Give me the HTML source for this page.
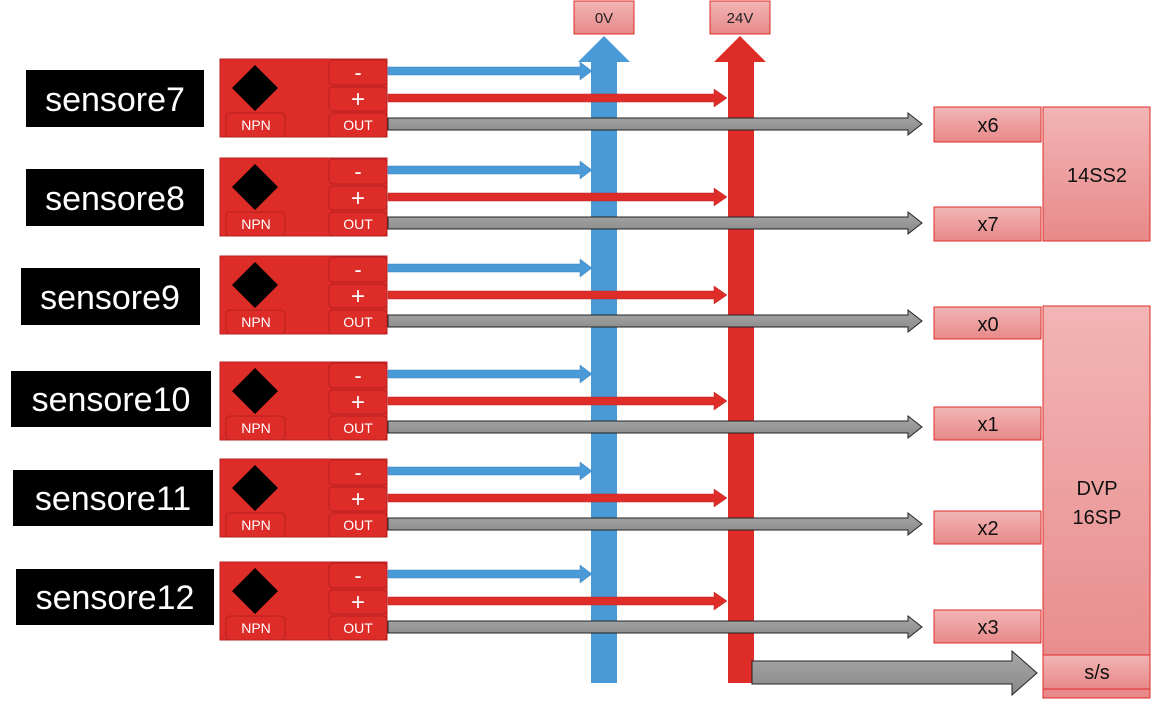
<!DOCTYPE html>
<html><head><meta charset="utf-8"><style>
html,body{margin:0;padding:0;background:#fff;}
svg{display:block;}
text{font-family:"Liberation Sans","DejaVu Sans",sans-serif;}
</style></head><body>
<svg width="1151" height="701" viewBox="0 0 1151 701" xmlns="http://www.w3.org/2000/svg">
<defs>
<linearGradient id="pk" x1="0" y1="0" x2="0" y2="1"><stop offset="0" stop-color="#f2b5b5"/><stop offset="1" stop-color="#e88989"/></linearGradient>
<linearGradient id="gr" x1="0" y1="0" x2="0" y2="1"><stop offset="0" stop-color="#a8a8a8"/><stop offset="1" stop-color="#888"/></linearGradient>
<g id="sensor">
<rect x="220" y="0" width="167" height="78" fill="#de2c29" stroke="#b22" stroke-width="1"/>
<polygon points="255,6 278,29 255,52 232,29" fill="#000"/>
<rect x="329" y="1" width="58" height="25" rx="4" fill="#de2c29" stroke="#b52020"/>
<rect x="329" y="28" width="58" height="24" rx="4" fill="#de2c29" stroke="#b52020"/>
<rect x="329" y="54" width="58" height="24" rx="4" fill="#de2c29" stroke="#b52020"/>
<rect x="226" y="54" width="59" height="24" rx="4" fill="#de2c29" stroke="#b52020"/>
<text x="358" y="21" fill="#fff" font-size="22" text-anchor="middle">-</text>
<text x="358" y="48" fill="#fff" font-size="24" text-anchor="middle">+</text>
<text x="358" y="71" fill="#fff" font-size="14" text-anchor="middle">OUT</text>
<text x="256" y="71" fill="#fff" font-size="14" text-anchor="middle">NPN</text>
<polygon points="388,8 580,8 580,3 592,12 580,21 580,16 388,16" fill="#4a9ad8" stroke="#3a80c0" stroke-width="0.5"/>
<polygon points="388,35 714,35 714,30 727,39 714,48 714,43 388,43" fill="#de2c29" stroke="#b22" stroke-width="0.5"/>
</g>
<g id="garr">
<polygon points="388,59 908,59 908,54 922,65 908,76 908,71 388,71" fill="url(#gr)" stroke="#222" stroke-width="1"/>
</g>
</defs>

<polygon points="591,683 591,62 578,62 604,36 630,62 617,62 617,683" fill="#4a9ad8"/>
<polygon points="728,683 728,62 714,62 740,36 766,62 754,62 754,683" fill="#de2c29"/>
<rect x="574" y="1" width="60" height="33" fill="url(#pk)" stroke="#de2c29"/>
<text x="604" y="23" font-size="15" text-anchor="middle" fill="#222">0V</text>
<rect x="710" y="1" width="60" height="33" fill="url(#pk)" stroke="#de2c29"/>
<text x="740" y="23" font-size="15" text-anchor="middle" fill="#222">24V</text>

<use href="#sensor" y="59"/><use href="#garr" y="59"/>
<use href="#sensor" y="158"/><use href="#garr" y="158"/>
<use href="#sensor" y="256"/><use href="#garr" y="256"/>
<use href="#sensor" y="362"/><use href="#garr" y="362"/>
<use href="#sensor" y="459"/><use href="#garr" y="459"/>
<use href="#sensor" y="562"/><use href="#garr" y="562"/>

<g font-size="34" fill="#fff" text-anchor="middle">
<rect x="26" y="70" width="178" height="57" fill="#000"/><text x="115" y="111">sensore7</text>
<rect x="26" y="169" width="178" height="57" fill="#000"/><text x="115" y="210">sensore8</text>
<rect x="21" y="268" width="179" height="57" fill="#000"/><text x="110" y="309">sensore9</text>
<rect x="11" y="371" width="200" height="56" fill="#000"/><text x="111" y="411">sensore10</text>
<rect x="13" y="470" width="200" height="56" fill="#000"/><text x="113" y="510">sensore11</text>
<rect x="16" y="569" width="198" height="56" fill="#000"/><text x="115" y="609">sensore12</text>
</g>

<polygon points="752,661 1012,661 1012,651 1037,673 1012,695 1012,684 752,684" fill="url(#gr)" stroke="#222" stroke-width="1"/>

<g stroke="#de2c29">
<rect x="934" y="107" width="107" height="35" fill="url(#pk)"/>
<rect x="934" y="207" width="107" height="34" fill="url(#pk)"/>
<rect x="934" y="307" width="107" height="32" fill="url(#pk)"/>
<rect x="934" y="407" width="107" height="33" fill="url(#pk)"/>
<rect x="934" y="511" width="107" height="33" fill="url(#pk)"/>
<rect x="934" y="610" width="107" height="33" fill="url(#pk)"/>
<rect x="1043" y="107" width="107" height="134" fill="url(#pk)"/>
<rect x="1043" y="306" width="107" height="392" fill="url(#pk)"/>
<rect x="1043" y="655" width="107" height="34" fill="url(#pk)"/>
</g>
<g font-size="20" fill="#111" text-anchor="middle">
<text x="988" y="132">x6</text>
<text x="988" y="231">x7</text>
<text x="988" y="331">x0</text>
<text x="988" y="431">x1</text>
<text x="988" y="535">x2</text>
<text x="988" y="634">x3</text>
<text x="1097" y="182">14SS2</text>
<text x="1097" y="495">DVP</text>
<text x="1097" y="524">16SP</text>
<text x="1097" y="679">s/s</text>
</g>
</svg>
</body></html>
